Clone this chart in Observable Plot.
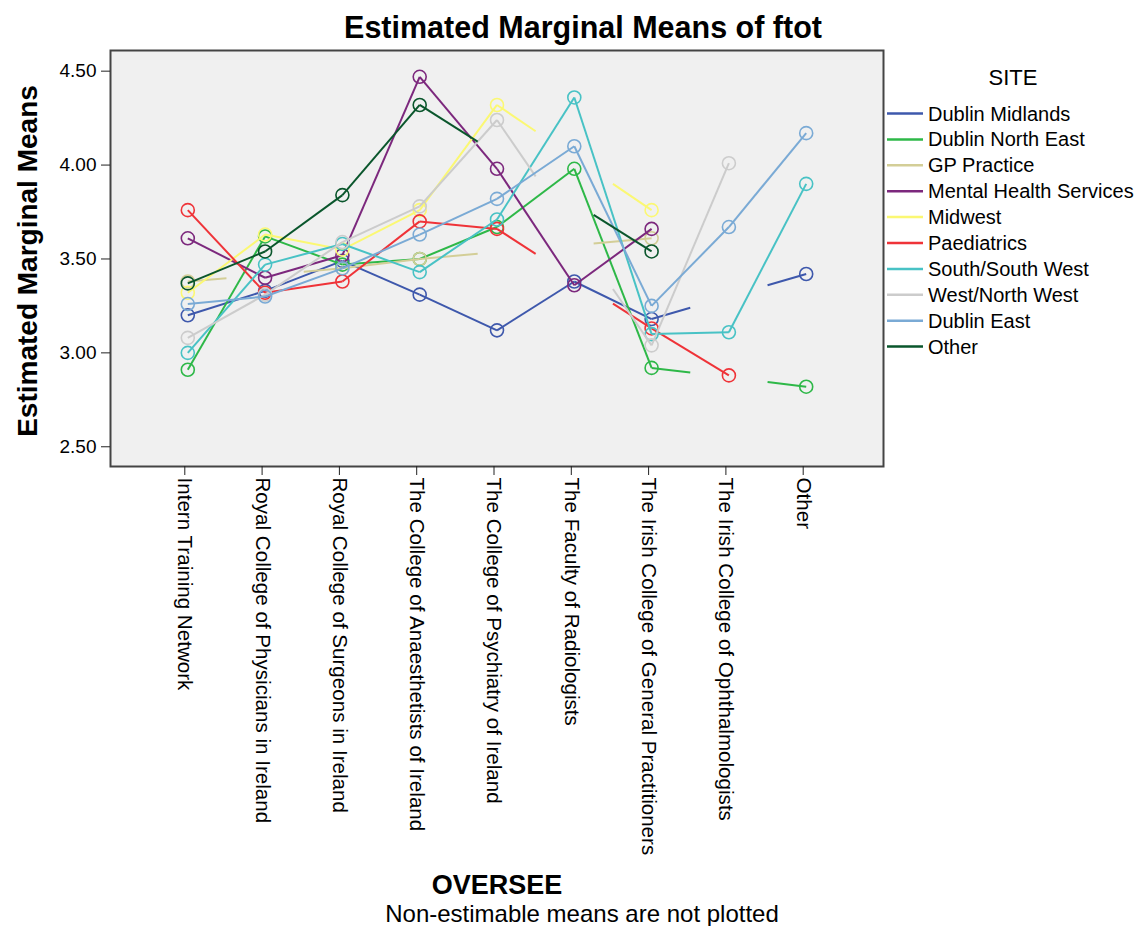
<!DOCTYPE html>
<html>
<head>
<meta charset="utf-8">
<script src="https://cdn.jsdelivr.net/npm/d3@7"></script>
<script src="https://cdn.jsdelivr.net/npm/@observablehq/plot@0.6"></script>
<style>
  body { margin: 0; background: #fff; }
  #chart svg { display: block; }
</style>
</head>
<body>
<div id="chart"></div>
<script>
// ---- Data ----
const categories = [
  "Intern Training Network",
  "Royal College of Physicians in Ireland",
  "Royal College of Surgeons in Ireland",
  "The College of Anaesthetists of Ireland",
  "The College of Psychiatry of Ireland",
  "The Faculty of Radiologists",
  "The Irish College of General Practitioners",
  "The Irish College of Ophthalmologists",
  "Other"
];
const sites = [
  "Dublin Midlands", "Dublin North East", "GP Practice", "Mental Health Services",
  "Midwest", "Paediatrics", "South/South West", "West/North West", "Dublin East", "Other"
];
const siteColors = [
  "#3E58AC", "#2EB848", "#D3CE97", "#7C287D", "#FBF873",
  "#EF3338", "#48C2C5", "#CCCCCC", "#7AAAD5", "#0A562C"
];
// null = non-estimable mean (not plotted)
const dublinMidlands       = [3.20, 3.33, 3.49, 3.31, 3.12, 3.38, 3.18, null, 3.42];
const dublinNorthEast      = [2.91, 3.62, 3.47, 3.50, 3.67, 3.98, 2.92, null, 2.82];
const gpPractice           = [3.38, null, 3.45, 3.50, null, null, 3.61, null, null];
const mentalHealthServices = [3.61, 3.40, 3.52, 4.47, 3.98, 3.36, 3.66, null, null];
const midwest              = [3.32, 3.63, 3.55, 3.76, 4.32, null, 3.76, null, null];
const paediatrics          = [3.76, 3.32, 3.38, 3.70, 3.66, null, 3.13, 2.88, null];
const southSouthWest       = [3.00, 3.47, 3.58, 3.43, 3.71, 4.36, 3.10, 3.11, 3.90];
const westNorthWest        = [3.08, 3.31, 3.59, 3.78, 4.24, null, 3.04, 4.01, null];
const dublinEast           = [3.26, 3.30, 3.45, 3.63, 3.82, 4.10, 3.25, 3.67, 4.17];
const otherSite            = [3.37, 3.54, 3.84, 4.32, null, null, 3.54, null, null];
const yTicks = [2.5, 3.0, 3.5, 4.0, 4.5];

const seriesValues = [dublinMidlands, dublinNorthEast, gpPractice, mentalHealthServices,
  midwest, paediatrics, southSouthWest, westNorthWest, dublinEast, otherSite];

// Build segments: adjacent estimable cells joined fully; across a gap only the
// outer quarter of the connecting line is drawn at each end.
const segs = [], pts = [];
seriesValues.forEach((vals, s) => {
  const idx = vals.map((v, i) => v == null ? -1 : i).filter(i => i >= 0);
  idx.forEach(i => pts.push({s, x: i, y: vals[i]}));
  for (let k = 0; k < idx.length - 1; k++) {
    const i = idx[k], j = idx[k + 1];
    const a = vals[i], b = vals[j];
    if (j - i === 1) {
      segs.push({s, x1: i, y1: a, x2: j, y2: b});
    } else {
      const f = 0.25;
      segs.push({s, x1: i, y1: a, x2: i + f * (j - i), y2: a + f * (b - a)});
      segs.push({s, x1: j - f * (j - i), y1: b - f * (b - a), x2: j, y2: b});
    }
  }
});

const seriesMarks = [];
sites.forEach((name, s) => {
  seriesMarks.push(Plot.link(segs.filter(d => d.s === s), {
    x1: "x1", y1: "y1", x2: "x2", y2: "y2",
    stroke: siteColors[s], strokeWidth: 2
  }));
  seriesMarks.push(Plot.dot(pts.filter(d => d.s === s), {
    x: "x", y: "y", r: 6.5, stroke: siteColors[s], strokeWidth: 1.6, fill: "none"
  }));
});

const svg = Plot.plot({
  width: 1145,
  height: 926,
  marginTop: 50,
  marginLeft: 110,
  marginRight: 262,
  marginBottom: 460,
  style: {fontFamily: "Arial, 'Liberation Sans', sans-serif", fontSize: "20px", color: "#000", background: "#fff", overflow: "visible"},
  x: {type: "linear", domain: [-1, 9]},
  y: {domain: [2.395, 4.61]},
  marks: [
    Plot.frame({fill: "#F0F0F0"}),
    ...seriesMarks,
    Plot.frame({stroke: "#444", strokeWidth: 2}),
    Plot.axisY({ticks: yTicks, tickFormat: d3.format(".2f"), fontSize: 19, tickSize: 9, tickPadding: 5, label: null, stroke: "#222"}),
    Plot.axisX({ticks: d3.range(categories.length), tickFormat: i => categories[i], tickRotate: 90, fontSize: 20.6, tickSize: 9, tickPadding: 2, dx: -3, label: null, stroke: "#222"})
  ]
});

const root = d3.select(svg);
const font = "Arial, 'Liberation Sans', sans-serif";
root.append("text").attr("x", 583).attr("y", 38).attr("text-anchor", "middle")
  .attr("font-family", font).attr("font-weight", "bold").attr("font-size", 30.5).attr("fill", "#000")
  .text("Estimated Marginal Means of ftot");
root.append("text").attr("transform", "translate(37,261) rotate(-90)").attr("text-anchor", "middle")
  .attr("font-family", font).attr("font-weight", "bold").attr("font-size", 28).attr("fill", "#000")
  .text("Estimated Marginal Means");
root.append("text").attr("x", 497).attr("y", 894).attr("text-anchor", "middle")
  .attr("font-family", font).attr("font-weight", "bold").attr("font-size", 27).attr("fill", "#000")
  .text("OVERSEE");
root.append("text").attr("x", 582).attr("y", 922).attr("text-anchor", "middle")
  .attr("font-family", font).attr("font-size", 24).attr("fill", "#000")
  .text("Non-estimable means are not plotted");

// Legend
const lg = root.append("g").attr("font-family", font);
lg.append("text").attr("x", 1013).attr("y", 85).attr("text-anchor", "middle")
  .attr("font-size", 22).attr("fill", "#000").text("SITE");
sites.forEach((name, s) => {
  const yy = 113.5 + s * 25.9;
  lg.append("line").attr("x1", 887).attr("x2", 923).attr("y1", yy).attr("y2", yy)
    .attr("stroke", siteColors[s]).attr("stroke-width", 2.5);
  lg.append("text").attr("x", 928).attr("y", yy + 7).attr("text-anchor", "start")
    .attr("font-size", 20).attr("fill", "#000").text(name);
});

document.getElementById("chart").appendChild(svg);
</script>
</body>
</html>
